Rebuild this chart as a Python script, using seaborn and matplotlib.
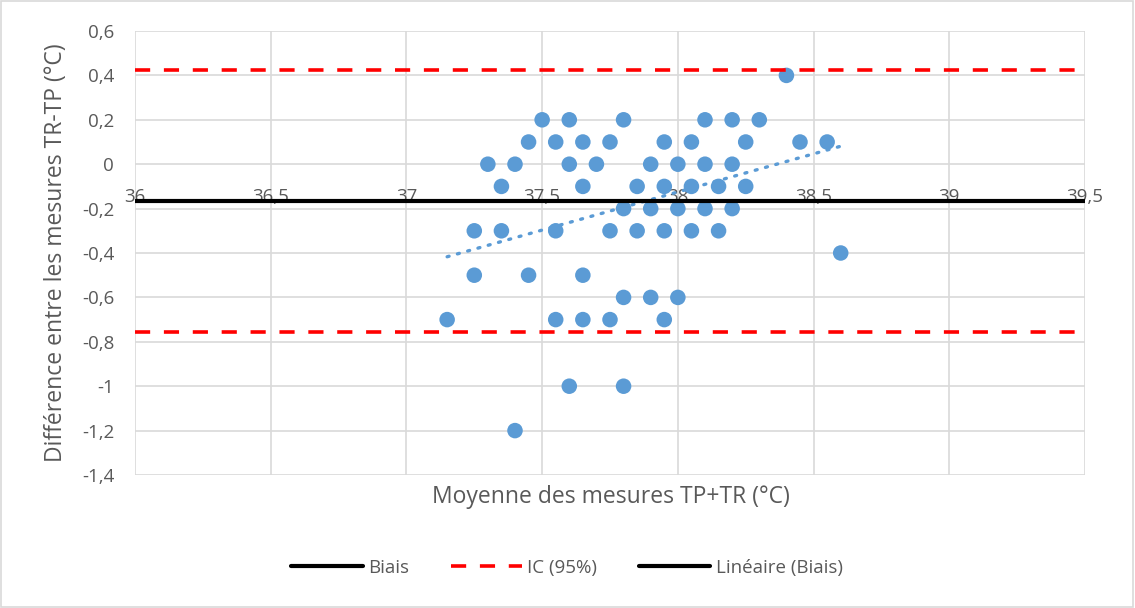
import numpy as np
import pandas as pd
import matplotlib
matplotlib.use('Agg')
import matplotlib.pyplot as plt
from matplotlib.lines import Line2D
from matplotlib.patches import Rectangle
from matplotlib.ticker import FuncFormatter, MultipleLocator
import seaborn as sns

# Données (Bland-Altman TR / TP)
moyenne = [38.4,
           37.5, 37.6, 37.8, 38.1, 38.2, 38.3,
           37.45, 37.55, 37.65, 37.75, 37.95, 38.05, 38.25, 38.45, 38.55,
           37.3, 37.4, 37.6, 37.7, 37.9, 38.0, 38.1, 38.2,
           37.35, 37.65, 37.85, 37.95, 38.05, 38.15, 38.25,
           37.8, 37.9, 38.0, 38.1, 38.2,
           37.25, 37.35, 37.55, 37.75, 37.85, 37.95, 38.05, 38.15,
           38.6,
           37.25, 37.45, 37.65,
           37.8, 37.9, 38.0,
           37.15, 37.55, 37.65, 37.75, 37.95,
           37.6, 37.8,
           37.4]
difference = [0.4,
              0.2, 0.2, 0.2, 0.2, 0.2, 0.2,
              0.1, 0.1, 0.1, 0.1, 0.1, 0.1, 0.1, 0.1, 0.1,
              0.0, 0.0, 0.0, 0.0, 0.0, 0.0, 0.0, 0.0,
              -0.1, -0.1, -0.1, -0.1, -0.1, -0.1, -0.1,
              -0.2, -0.2, -0.2, -0.2, -0.2,
              -0.3, -0.3, -0.3, -0.3, -0.3, -0.3, -0.3, -0.3,
              -0.4,
              -0.5, -0.5, -0.5,
              -0.6, -0.6, -0.6,
              -0.7, -0.7, -0.7, -0.7, -0.7,
              -1.0, -1.0,
              -1.2]

biais = -0.167
ic_haut = 0.423
ic_bas = -0.757

# droite de tendance
tendance_x = [37.15, 38.6]
tendance_y = [-0.417, 0.081]

legende = ['Biais', 'IC (95%)', 'Linéaire (Biais)']

df = pd.DataFrame({'Moyenne': moyenne, 'Difference': difference})
df_tend = pd.DataFrame({'x': tendance_x, 'y': tendance_y})

sns.set_theme(style='white')
plt.rcParams['font.family'] = ['Open Sans', 'DejaVu Sans']

gris_texte = '#595959'
gris_grille = '#D9D9D9'
bleu = '#5B9BD5'

fig = plt.figure(figsize=(11.35, 6.08), dpi=100)
ax = fig.add_axes([135 / 1135, 1 - 475 / 608, 950 / 1135, 444 / 608])

sns.scatterplot(data=df, x='Moyenne', y='Difference', ax=ax, color=bleu,
                s=125, edgecolor='none', zorder=3, legend=False)
sns.lineplot(data=df_tend, x='x', y='y', ax=ax, color=bleu, lw=2.4,
             linestyle=(0, (0.6, 2.6)), dash_capstyle='round', zorder=4)

ax.axhline(biais, color='black', lw=3, zorder=5)
ax.axhline(ic_haut, color='#FF0000', lw=2.6, linestyle=(0, (4.2, 3.8)), zorder=5)
ax.axhline(ic_bas, color='#FF0000', lw=2.6, linestyle=(0, (4.2, 3.8)), zorder=5)

ax.set_xlim(36, 39.5)
ax.set_ylim(-1.4, 0.6)
ax.xaxis.set_major_locator(MultipleLocator(0.5))
ax.yaxis.set_major_locator(MultipleLocator(0.2))

def virgule(v, pos):
    v = round(v, 2)
    if v == 0:
        return '0'
    return f'{v:g}'.replace('.', ',')

ax.xaxis.set_major_formatter(FuncFormatter(virgule))
ax.yaxis.set_major_formatter(FuncFormatter(virgule))

ax.grid(True, color=gris_grille, lw=1.2)
ax.set_axisbelow(True)
for s in ['top', 'right', 'left']:
    ax.spines[s].set_visible(False)
ax.spines['bottom'].set_position(('data', 0))
ax.spines['bottom'].set_visible(False)
ax.tick_params(axis='x', length=0, pad=17, labelsize=13.5, colors=gris_texte)
ax.tick_params(axis='y', length=0, pad=15, labelsize=13.5, colors=gris_texte)

ax.set_xlabel('')
ax.set_ylabel('Différence entre les mesures TR-TP (°C)', fontsize=16.5,
              color=gris_texte, labelpad=10)
fig.text(611 / 1135, 1 - 497 / 608, 'Moyenne des mesures TP+TR (°C)',
         ha='center', va='center', fontsize=16.5, color=gris_texte)

poignees = [Line2D([], [], color='black', lw=3),
            Line2D([], [], color='#FF0000', lw=2.6, linestyle=(0, (4.2, 3.8))),
            Line2D([], [], color='black', lw=3)]
fig.legend(poignees, legende, loc='center', bbox_to_anchor=(567 / 1135, 1 - 568 / 608),
           ncol=3, frameon=False, fontsize=13.5, handlelength=3.8,
           columnspacing=2.2, labelcolor=gris_texte, handletextpad=0.3)

fig.patches.append(Rectangle((0.001, 0.001), 0.997, 0.997, transform=fig.transFigure,
                             fill=False, edgecolor=gris_grille, lw=1.2))

fig.savefig('out.png', dpi=100)
